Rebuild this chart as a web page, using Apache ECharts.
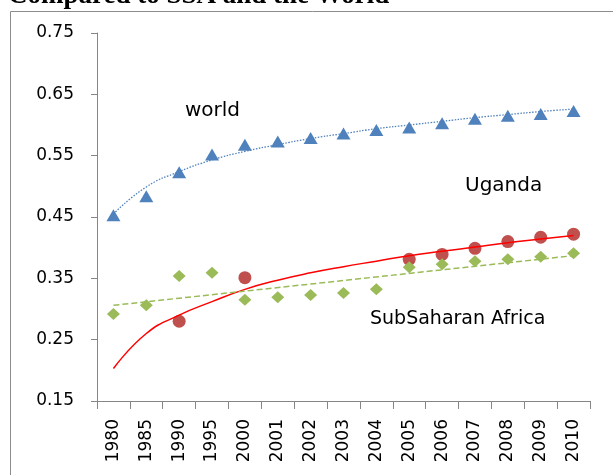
<!DOCTYPE html>
<html>
<head>
<meta charset="utf-8">
<script src="https://cdn.jsdelivr.net/npm/echarts@6/dist/echarts.min.js"></script>
<style>
  html, body { margin: 0; padding: 0; background: #fff; }
  #chart { width: 613px; height: 475px; }
</style>
</head>
<body>
<div id="chart"></div>
<script>
// categories and values
const years = ['1980', '1985', '1990', '1995', '2000', '2001', '2002', '2003', '2004', '2005', '2006', '2007', '2008', '2009', '2010'];
const yTicks = [0.15, 0.25, 0.35, 0.45, 0.55, 0.65, 0.75];

const world = [0.453, 0.484, 0.523, 0.552, 0.568, 0.573, 0.579, 0.586, 0.592, 0.596, 0.603, 0.610, 0.615, 0.618, 0.623];
const worldTrend = [0.455, 0.499, 0.524, 0.543, 0.557, 0.568, 0.578, 0.586, 0.594, 0.600, 0.606, 0.612, 0.617, 0.622, 0.626];

const uganda = ['-', '-', 0.280, '-', 0.351, '-', '-', '-', '-', 0.381, 0.389, 0.399, 0.410, 0.417, 0.422];
const ugandaTrend = [0.203, 0.260, 0.290, 0.312, 0.332, 0.347, 0.359, 0.369, 0.378, 0.387, 0.394, 0.401, 0.408, 0.414, 0.420];

const ssa = [0.292, 0.306, 0.354, 0.359, 0.315, 0.319, 0.323, 0.326, 0.332, 0.368, 0.373, 0.378, 0.381, 0.385, 0.391];
// straight (linear) trend: only its two ends are read, the line joins them
const ssaTrend = [0.306, null, null, null, null, null, null, null, null, null, null, null, null, null, 0.387];

const chart = echarts.init(document.getElementById('chart'), null, { renderer: 'canvas' });

const axisGray = '#868686';
const labelFont = 'DejaVu Sans';

const option = {
    animation: false,
    backgroundColor: '#fff',
    grid: { left: 97, top: 33, right: 23, bottom: 74 },
    xAxis: {
        type: 'category',
        data: years,
        boundaryGap: true,
        axisLine: { lineStyle: { color: axisGray, width: 1 } },
        axisTick: { show: true, interval: 0, length: 8, lineStyle: { color: axisGray } },
        axisLabel: {
            interval: 0, rotate: 90, margin: 18,
            color: '#000', fontSize: 17, fontFamily: labelFont
        },
        splitLine: { show: false }
    },
    yAxis: {
        type: 'value',
        min: 0.15,
        max: 0.75,
        axisLine: { show: true, lineStyle: { color: axisGray, width: 1 } },
        axisTick: { show: true, length: 6, customValues: yTicks, lineStyle: { color: axisGray } },
        axisLabel: {
            customValues: yTicks, margin: 23,
            color: '#000', fontSize: 17, fontFamily: labelFont,
            formatter: v => v.toFixed(2)
        },
        splitLine: { show: false }
    },
    series: [
        {
            name: 'world', type: 'scatter', data: world,
            symbol: 'triangle', symbolSize: [14, 12],
            itemStyle: { color: '#4F81BD', opacity: 1 }, z: 2
        },
        {
            name: 'Uganda', type: 'scatter', data: uganda,
            symbol: 'circle', symbolSize: 13,
            itemStyle: { color: '#C0504D', opacity: 1 }, z: 2
        },
        {
            name: 'SubSaharan Africa', type: 'scatter', data: ssa,
            symbol: 'diamond', symbolSize: [13, 12],
            itemStyle: { color: '#9BBB59', opacity: 1 }, z: 2
        },
        {
            name: 'world trend', type: 'line', data: worldTrend,
            symbol: 'none', smooth: true,
            lineStyle: { color: '#4F81BD', width: 1.3, type: [1.5, 1.5] }, z: 3
        },
        {
            name: 'Uganda trend', type: 'line', data: ugandaTrend,
            symbol: 'none', smooth: true,
            lineStyle: { color: '#FF0000', width: 1.5 }, z: 3
        },
        {
            name: 'SSA trend', type: 'line', data: ssaTrend,
            symbol: 'none', connectNulls: true,
            lineStyle: { color: '#9BBB59', width: 1.5, type: [6, 3] }, z: 3
        }
    ],
    graphic: [
        {
            type: 'rect', silent: true,
            shape: { x: 10.5, y: 11.5, width: 800, height: 800 },
            style: { fill: 'none', stroke: '#8c8c8c', lineWidth: 1 }
        },
        {
            type: 'text', left: 8, top: -17,
            style: { text: 'Compared to SSA and the World', fill: '#000', font: 'bold 27px "Liberation Serif"' }
        },
        {
            type: 'text', x: 185, y: 111,
            style: { text: 'world', fill: '#000', font: '20px "DejaVu Sans"', verticalAlign: 'middle' }
        },
        {
            type: 'text', x: 465, y: 186,
            style: { text: 'Uganda', fill: '#000', font: '20px "DejaVu Sans"', verticalAlign: 'middle' }
        },
        {
            type: 'text', x: 370, y: 319,
            style: { text: 'SubSaharan Africa', fill: '#000', font: '19px "DejaVu Sans"', verticalAlign: 'middle' }
        }
    ]
};

chart.setOption(option);
</script>
</body>
</html>
